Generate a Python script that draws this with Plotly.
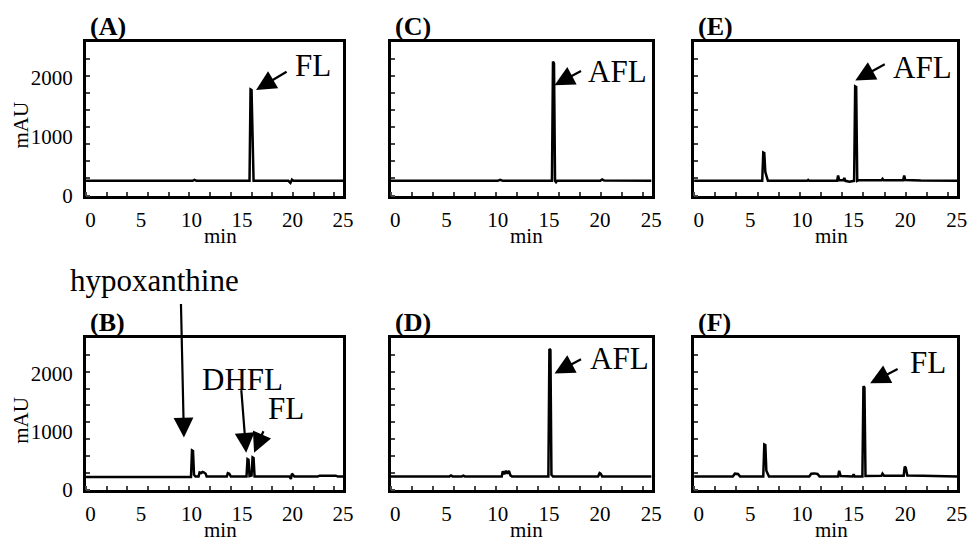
import plotly.graph_objects as go

# ---------------- data (retention time in min, absorbance in mAU) ----------------
A_time = [-0.45, 10.1, 10.3, 10.5, 15.75, 15.85, 15.95, 16.05, 16.15, 19.6, 19.8, 19.95, 20.1, 25.02]
A_mau = [250, 250, 265, 250, 250, 1800, 1790, 600, 250, 250, 215, 270, 250, 250]

C_time = [-0.45, 10.0, 10.25, 10.5, 15.3, 15.4, 15.5, 15.6, 15.7, 15.8, 20.0, 20.2, 20.4, 25.02]
C_mau = [250, 250, 268, 250, 250, 2270, 2240, 250, 228, 250, 250, 275, 255, 250]

E_time = [-0.45, 6.15, 6.25, 6.35, 6.45, 6.55, 6.7, 10.5, 10.6, 10.7, 13.4, 13.5, 13.6, 14.0, 14.1,
          14.2, 14.6, 15.05, 15.15, 15.25, 15.35, 15.5, 17.7, 17.8, 17.9, 19.8, 19.9, 20.0, 21.5, 25.02]
E_mau = [250, 250, 730, 720, 400, 330, 250, 250, 265, 250, 250, 340, 260, 260, 300,
         250, 235, 250, 1850, 1840, 250, 262, 262, 285, 262, 262, 340, 265, 255, 250]

B_time = [-0.45, 9.95, 10.05, 10.15, 10.25, 10.4, 10.7, 10.8, 10.95, 11.1, 11.25, 11.4, 11.5, 13.5,
          13.6, 13.75, 13.9, 15.45, 15.55, 15.65, 15.75, 15.95, 16.05, 16.15, 16.25, 19.7, 19.85,
          19.95, 20.05, 20.2, 22.5, 22.7, 24.3, 24.5, 25.02]
B_mau = [225, 225, 680, 670, 260, 230, 230, 300, 290, 310, 300, 280, 230, 230,
         290, 280, 230, 230, 530, 520, 240, 250, 560, 550, 230, 230, 190,
         280, 260, 230, 230, 245, 245, 230, 230]

D_time = [-0.45, 5.3, 5.45, 5.6, 6.5, 6.65, 6.8, 10.4, 10.5, 10.65, 10.8, 10.95, 11.1, 11.25, 11.4,
          14.95, 15.05, 15.15, 15.25, 15.4, 19.8, 19.95, 20.05, 20.2, 25.02]
D_mau = [233, 233, 250, 233, 233, 245, 233, 233, 320, 270, 330, 280, 330, 250, 233,
         233, 2420, 2400, 260, 233, 233, 290, 280, 233, 233]

F_time = [-0.45, 3.3, 3.5, 3.8, 4.0, 6.25, 6.35, 6.45, 6.55, 6.65, 6.8, 10.7, 10.9, 11.2, 11.5, 11.7,
          13.5, 13.6, 13.75, 14.9, 15.0, 15.1, 15.85, 15.95, 16.05, 16.15, 17.7, 17.8, 17.95,
          19.85, 19.95, 20.05, 20.2, 21.7, 25.02]
F_mau = [233, 233, 280, 275, 233, 233, 780, 770, 330, 300, 233, 233, 280, 285, 275, 233,
         233, 330, 240, 233, 270, 233, 233, 1780, 1760, 240, 245, 280, 245,
         245, 400, 380, 250, 245, 233]

panel_labels = ["(A)", "(C)", "(E)", "(B)", "(D)", "(F)"]
x_tick_values = [0, 5, 10, 15, 20, 25]
y_tick_values = [0, 1000, 2000]
x_label = "min"
y_label = "mAU"

series = [(A_time, A_mau), (C_time, C_mau), (E_time, E_mau),
          (B_time, B_mau), (D_time, D_mau), (F_time, F_mau)]

# peak annotations: (panel index, text, head time, head mAU, tail dx px, tail dy px, text x px, text y px)
peak_notes = [
    (0, "FL", 16.4, 1790, 32, -19, 316, 67),
    (1, "AFL", 15.55, 1870, 28, -15, 624, 73),
    (2, "AFL", 15.16, 1950, 31, -17, 932, 69),
    (3, "hypoxanthine", 9.25, 900, -3, -135, 155, 287),
    (3, "DHFL", 15.42, 640, -5, -64, 244, 388),
    (3, "FL", 16.2, 640, 10, -23, 288, 418),
    (4, "AFL", 15.55, 2000, 28, -15, 626, 367),
    (5, "FL", 16.6, 1830, 29, -15, 938, 371),
]

# ---------------- layout geometry ----------------
W, H = 974, 547
col_px = [(86, 346), (394, 658), (701, 967)]
row_px = [(43, 200), (346, 501)]
X_RANGE = [-0.45, 25.02]
Y_RANGE = [0, 2600]
SERIF = "Liberation Serif"

fig = go.Figure()
layout = dict(width=W, height=H, margin=dict(l=0, r=0, t=0, b=0),
              paper_bgcolor="white", plot_bgcolor="white", showlegend=False)

annotations = []
for i, (t, v) in enumerate(series):
    r, c = divmod(i, 3)
    n = "" if i == 0 else str(i + 1)
    x0, x1 = col_px[c]
    y0, y1 = row_px[r]
    fig.add_trace(go.Scatter(x=t, y=v, mode="lines", xaxis="x" + n, yaxis="y" + n,
                             line=dict(color="black", width=2.5), hoverinfo="skip"))
    layout["xaxis" + n] = dict(
        domain=[x0 / W, x1 / W], anchor="y" + n, range=X_RANGE,
        showline=True, mirror=True, linecolor="black", linewidth=3,
        showgrid=False, zeroline=False,
        tickmode="array", tickvals=x_tick_values, ticks="",
        tickfont=dict(family=SERIF, size=21, color="black"),
        ticklabelstandoff=3,
        minor=dict(ticks="inside", tickmode="linear", tick0=1.6, dtick=2.05,
                   ticklen=4, tickwidth=1.5, tickcolor="#444", showgrid=False),
    )
    layout["yaxis" + n] = dict(
        domain=[1 - y1 / H, 1 - y0 / H], anchor="x" + n, range=Y_RANGE,
        showline=True, mirror=True, linecolor="black", linewidth=3,
        showgrid=False, zeroline=False,
        tickmode="array", tickvals=y_tick_values, ticks="",
        showticklabels=(c == 0),
        tickfont=dict(family=SERIF, size=21, color="black"),
        ticklabelstandoff=6,
        minor=dict(ticks="inside", tickmode="linear", tick0=0, dtick=290,
                   ticklen=4, tickwidth=1.5, tickcolor="#444", showgrid=False),
    )
    # panel letter
    annotations.append(dict(text="<b>%s</b>" % panel_labels[i], xref="paper", yref="paper",
                            x=(x0 + 2) / W, y=1 - (y0 - 16) / H, xanchor="left", yanchor="middle",
                            showarrow=False, font=dict(family=SERIF, size=26, color="black")))
    # x axis title
    annotations.append(dict(text=x_label, xref="paper", yref="paper",
                            x=((x0 + x1) / 2 + 6) / W, y=1 - (y1 + 41) / H,
                            xanchor="center", yanchor="middle", showarrow=False,
                            font=dict(family=SERIF, size=21, color="black")))
    if c == 0:
        annotations.append(dict(text=y_label, xref="paper", yref="paper",
                                x=20 / W, y=1 - ((y0 + y1) / 2 + 6) / H, textangle=-90,
                                xanchor="center", yanchor="middle", showarrow=False,
                                font=dict(family=SERIF, size=21, color="black")))

for (i, txt, ht, hv, dx, dy, tx, ty) in peak_notes:
    n = "" if i == 0 else str(i + 1)
    annotations.append(dict(text="", x=ht, y=hv, xref="x" + n, yref="y" + n,
                            ax=dx, ay=dy, showarrow=True, arrowhead=2, arrowsize=1.8,
                            arrowwidth=2.2, arrowcolor="black"))
    annotations.append(dict(text=txt, xref="paper", yref="paper", x=tx / W, y=1 - ty / H,
                            xanchor="center", yanchor="middle", showarrow=False,
                            font=dict(family=SERIF, size=31, color="black")))

layout["annotations"] = annotations
fig.update_layout(**layout)
fig.write_html("out.html")
